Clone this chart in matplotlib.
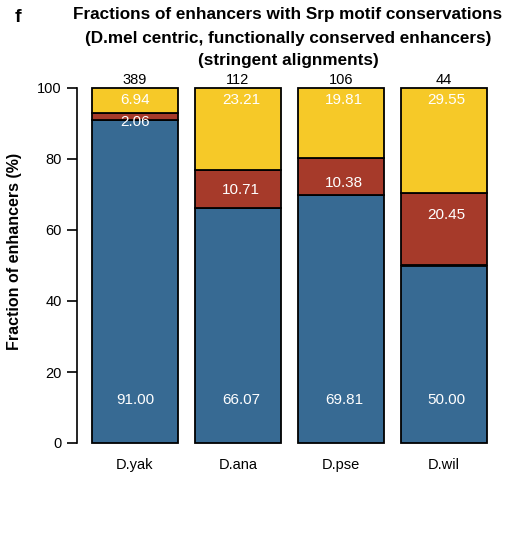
import matplotlib
matplotlib.use("Agg")
import matplotlib.pyplot as plt
import numpy as np

plt.rcParams['font.family'] = ['Liberation Sans', 'DejaVu Sans']

species = ["D.yak", "D.ana", "D.pse", "D.wil"]
counts = [389, 112, 106, 44]
blue_vals = [91.00, 66.07, 69.81, 50.00]
red_vals = [2.06, 10.71, 10.38, 20.45]
yellow_vals = [6.94, 23.21, 19.81, 29.55]
yticks = [0, 20, 40, 60, 80, 100]

# label layout (data units)
blue_label_y = 12
yellow_label_y = 96.5
red_label_y = [90.4, 71.3, 73.2, 64.2]
label_dx = [0.0, 0.03, 0.03, 0.02]

c_blue = "#376a93"
c_red = "#a63a2a"
c_yellow = "#f6c928"

W, H = 510, 551
fig = plt.figure(figsize=(W / 100, H / 100), dpi=100)
ax_l, ax_r, ax_b, ax_t = 77, 495, 443, 88
ax = fig.add_axes([ax_l / W, 1 - ax_b / H, (ax_r - ax_l) / W, (ax_b - ax_t) / H])

x = np.arange(len(species))
width = 86 / 103
kw = dict(width=width, edgecolor="black", linewidth=1.3, clip_on=False)
blue = np.array(blue_vals)
red = np.array(red_vals)
yellow = np.array(yellow_vals)
ax.bar(x, blue, color=c_blue, **kw)
ax.bar(x, red, bottom=blue, color=c_red, **kw)
ax.bar(x, yellow, bottom=blue + red, color=c_yellow, **kw)

left = (ax_l - 135) / 103
right = left + (ax_r - ax_l) / 103
ax.set_xlim(left, right)
ax.set_ylim(0, 100)

for i in range(len(species)):
    xi = x[i] + label_dx[i]
    ax.text(xi, blue_label_y, f"{blue_vals[i]:.2f}", color="white", ha="center", va="center", fontsize=11)
    ax.text(xi, red_label_y[i], f"{red_vals[i]:.2f}", color="white", ha="center", va="center", fontsize=11)
    ax.text(xi, yellow_label_y, f"{yellow_vals[i]:.2f}", color="white", ha="center", va="center", fontsize=11)
    ax.text(x[i], 102.3, str(counts[i]), color="black", ha="center", va="center", fontsize=10.5, clip_on=False)

for s in ["top", "right", "bottom"]:
    ax.spines[s].set_visible(False)
ax.spines["left"].set_linewidth(1.2)
ax.spines["left"].set_bounds(0, 100)
ax.set_yticks(yticks)
ax.set_yticklabels([str(v) for v in yticks], fontsize=10.5)
ax.tick_params(axis="y", length=7, width=1.2, pad=4)
ax.set_xticks(x)
ax.set_xticklabels(species, fontsize=10.5)
ax.tick_params(axis="x", length=0, pad=11)

ax.set_ylabel("Fraction of enhancers (%)", fontsize=11.5, fontweight="bold")
ax.yaxis.set_label_coords((22 - 77) / 418, (443 - 251) / 355)

cx = 288 / W
title_lines = ["Fractions of enhancers with Srp motif conservations",
               "(D.mel centric, functionally conserved enhancers)",
               "(stringent alignments)"]
for yy, t in zip([15, 38, 60], title_lines):
    fig.text(cx, 1 - yy / H, t, ha="center", va="center", fontsize=12.3, fontweight="bold")
fig.text(18 / W, 1 - 17 / H, "f", ha="center", va="center", fontsize=14, fontweight="bold")

fig.savefig("out.png", dpi=100)
